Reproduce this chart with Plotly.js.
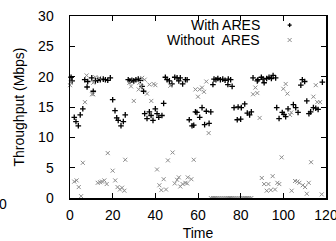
<!DOCTYPE html>
<html>
<head>
<meta charset="utf-8">
<script src="https://cdn.plot.ly/plotly-3.0.1.min.js"></script>
<style>html,body{margin:0;padding:0;background:#fff;}#chart{width:336px;height:241px;}</style>
</head>
<body>
<div id="chart"></div>
<script>
// ---- data ----
const withAresTime = [0.5,1.0,2.0,2.8,3.9,4.8,6.0,6.9,8.0,8.3,10.2,10.9,11.9,13.0,14.2,15.6,16.6,17.7,18.9,20.0,21.1,21.9,22.6,23.9,25.0,25.9,27.3,28.1,29.0,29.9,30.9,32.0,33.0,33.8,34.5,35.0,36.1,37.2,38.0,38.9,40.0,40.8,41.6,43.1,43.9,44.7,45.5,46.6,47.8,49.1,50.2,51.0,51.7,52.8,54.1,54.9,55.9,57.2,58.0,58.8,59.5,60.8,61.9,63.1,63.9,65.2,66.0,67.0,67.5,68.4,69.3,70.5,71.6,72.7,74.0,74.2,75.3,76.0,76.9,78.4,78.8,80.0,80.3,81.9,83.1,84.2,85.0,85.8,87.8,88.1,89.7,90.5,91.0,92.2,93.3,94.4,95.2,96.4,96.9,98.0,99.5,100.3,101.1,102.2,104.7,105.8,106.9,108.2,108.9,110.0,111.0,112.0,112.8,114.1,115.2,116.3,118.3];
const withAresMbps = [19.9,19.3,13.3,12.6,11.9,13.7,14.7,19.5,18.3,19.2,19.8,17.6,19.3,19.4,19.5,19.6,19.5,19.4,19.8,16.2,14.4,13.2,12.8,11.9,12.6,13.7,19.5,19.3,19.4,19.3,19.5,19.6,19.4,18.4,17.6,13.9,13.1,14.2,13.6,12.8,14.7,13.9,13.3,13.6,15.6,19.9,19.5,19.3,18.8,19.9,19.8,19.3,19.8,18.8,19.5,19.5,12.9,11.9,12.0,14.2,14.1,13.3,14.9,12.1,14.3,12.3,14.2,18.7,19.6,19.5,19.7,19.5,19.6,19.4,18.7,19.6,19.5,18.4,14.9,12.9,15.0,13.0,14.9,15.5,14.0,13.7,14.2,19.8,19.3,19.5,19.9,19.6,19.0,19.7,19.9,19.7,20.2,19.8,14.9,13.1,14.1,13.8,13.4,14.7,15.4,14.9,14.1,18.6,19.5,19.2,16.0,13.9,14.2,14.9,14.8,14.6,19.1];

const withoutAresTime = [0,0.3,2.0,3.1,4.1,5.2,6.0,7.0,7.8,10.3,10.9,10.9,11.9,13.0,13.7,14.1,15.0,16.1,17.2,17.7,20.0,21.2,22.3,23.4,24.4,25.5,25.9,27.8,28.6,29.9,32.2,32.5,33.4,33.8,35.0,36.1,37.2,38.1,39.2,40.0,40.8,41.9,42.8,43.9,45.0,45.9,47.0,48.1,49.1,50.2,51.0,51.7,52.8,54.1,54.9,55.2,56.9,58.0,58.8,60.0,60.8,61.9,62.8,63.9,65.0,66,67,68,69,70,71,72,73,74,75,76,77,78,79,80,81,82,83,84,85,85.8,86.9,87.8,88.9,89.9,91.0,92.2,93.0,94.1,95.0,96.1,97.2,98.1,99.2,100.0,101.1,101.9,103.1,103.7,103.9,105.5,106.6,107.5,109.1,110.2,111.0,111.9,113.0,114.1,115.2,115.9,117.2,118.0];
const withoutAresMbps = [18.6,19.0,2.7,2.9,1.8,0.3,5.8,15.8,20.2,17.1,17.1,19.0,19.9,2.5,19.8,2.6,2.7,2.9,2.3,7.4,4.5,2.9,1.8,1.4,1.7,1.2,6.3,19.0,18.4,16.0,17.9,19.0,18.4,19.8,19.5,17.2,18.7,16.0,18.8,18.6,4.7,2.1,1.3,3.1,1.4,6.2,18.5,7.5,2.4,3.0,3.4,1.9,2.3,2.5,2.4,3.4,3.1,6.3,17.9,16.7,17.9,18.2,17.5,19.2,10.7,0,0,0,0,0,0,0,0,0,0,0,0,0,0,0,0,0,0,0,0,17.1,18.2,17.3,13.2,3.3,2.3,1.2,2.3,1.3,3.6,1.4,2.5,2.3,6.7,18.0,18.8,17.2,13.7,14.1,1.2,2.8,2.7,2.5,2.1,1.8,0.7,2.5,5.9,16.7,18.6,15.8,15.8,0.6];

const seriesNames = ["With ARES", "Without\u00a0 ARES"];
const xTicks = [0, 20, 40, 60, 80, 100, 120];
const yTicks = [0, 5, 10, 15, 20, 25, 30];
const xTitle = "Time";
const yTitle = "Throughput (Mbps)";

const FONT = "Liberation Sans, Arial, Helvetica, sans-serif";
const GRAY = "#8c8c8c";

const traces = [
  {
    x: withAresTime, y: withAresMbps, name: seriesNames[0],
    type: "scatter", mode: "markers", showlegend: false,
    marker: {symbol: "cross-thin", size: 4, color: "#000", line: {color: "#000", width: 1.3}},
    cliponaxis: false
  },
  {
    x: withoutAresTime, y: withoutAresMbps, name: seriesNames[1],
    type: "scatter", mode: "markers", showlegend: false,
    marker: {symbol: "x-thin", size: 4, color: GRAY, line: {color: GRAY, width: 1}},
    cliponaxis: false
  }
];

const axisCommon = {
  showline: true, linecolor: "#000", linewidth: 1.5, mirror: "ticks",
  ticks: "inside", ticklen: 5, tickwidth: 1, tickcolor: "#000",
  showgrid: false, zeroline: false, fixedrange: true,
  ticklabeloverflow: "allow",
  tickfont: {family: FONT, size: 14, color: "#000"}
};

// legend placement (paper coords)
const legX = 0.858, legTextX = 0.749, legY = [0.950, 0.868];

const layout = {
  width: 336, height: 241,
  margin: {l: 70, r: 10, t: 16, b: 43},
  paper_bgcolor: "#fff", plot_bgcolor: "#fff",
  font: {family: FONT, size: 14, color: "#000"},
  showlegend: false,
  xaxis: Object.assign({}, axisCommon, {
    range: [0, 120], tickvals: xTicks, ticktext: xTicks.map(String),
    ticklabelstandoff: 4,
    title: {text: xTitle, font: {family: FONT, size: 14, color: "#000"}, standoff: 6}
  }),
  yaxis: Object.assign({}, axisCommon, {
    range: [0, 30], tickvals: yTicks, ticktext: yTicks.map(String),
    ticklabelstandoff: 12,
    title: {text: yTitle, font: {family: FONT, size: 14, color: "#000"}, standoff: 10}
  }),
  annotations: [
    {text: seriesNames[0], xref: "paper", yref: "paper", x: legTextX, y: legY[0], xanchor: "right", yanchor: "middle", showarrow: false, font: {family: FONT, size: 14, color: "#000"}},
    {text: seriesNames[1], xref: "paper", yref: "paper", x: legTextX, y: legY[1], xanchor: "right", yanchor: "middle", showarrow: false, font: {family: FONT, size: 14, color: "#000"}},
    {text: "0", xref: "paper", yref: "paper", x: -0.262, y: -0.035, xanchor: "center", yanchor: "middle", showarrow: false, font: {family: FONT, size: 14, color: "#000"}}
  ],
  shapes: [
    // legend symbol: plus
    {type: "line", xref: "paper", yref: "paper", xsizemode: "pixel", ysizemode: "pixel", xanchor: legX, yanchor: legY[0], x0: -2, x1: 2, y0: 0, y1: 0, line: {color: "#000", width: 1.3}},
    {type: "line", xref: "paper", yref: "paper", xsizemode: "pixel", ysizemode: "pixel", xanchor: legX, yanchor: legY[0], x0: 0, x1: 0, y0: -2, y1: 2, line: {color: "#000", width: 1.3}},
    // legend symbol: x
    {type: "line", xref: "paper", yref: "paper", xsizemode: "pixel", ysizemode: "pixel", xanchor: legX, yanchor: legY[1], x0: -2, x1: 2, y0: -2, y1: 2, line: {color: GRAY, width: 1}},
    {type: "line", xref: "paper", yref: "paper", xsizemode: "pixel", ysizemode: "pixel", xanchor: legX, yanchor: legY[1], x0: -2, x1: 2, y0: 2, y1: -2, line: {color: GRAY, width: 1}}
  ]
};

Plotly.newPlot("chart", traces, layout, {staticPlot: true, displayModeBar: false});
</script>
</body>
</html>
